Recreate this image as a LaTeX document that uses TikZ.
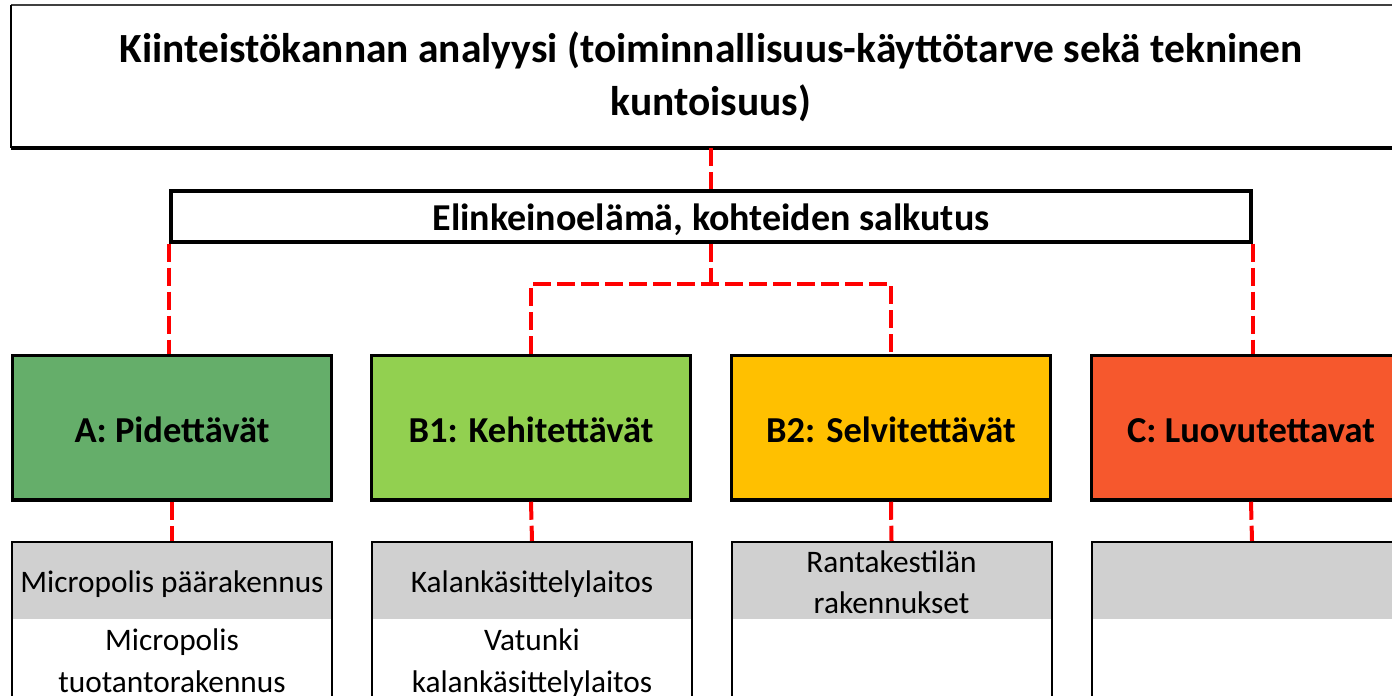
\documentclass[tikz,border=0pt]{standalone}
\usepackage{fontspec}
\setmainfont{Carlito}
\definecolor{keepgreen}{HTML}{65AE6A}
\definecolor{devgreen}{HTML}{92D050}
\definecolor{checkgold}{HTML}{FFC000}
\definecolor{sellred}{HTML}{F6582D}
\definecolor{hdrgrey}{HTML}{D0D0D0}
\definecolor{linkred}{HTML}{FF0000}
\begin{document}
\begin{tikzpicture}[x=0.75pt,y=-0.75pt,
  titletext/.style={inner sep=0pt,anchor=base,font=\bfseries\fontsize{31.1}{38}\selectfont},
  boldtext/.style={inner sep=0pt,anchor=base,font=\bfseries\fontsize{27.4}{33}\selectfont},
  plaintext/.style={inner sep=0pt,anchor=base,font=\fontsize{23.5}{31.5}\selectfont},
  catbox/.style={draw=black,line width=2.6pt,minimum width=239.25pt,minimum height=108.4pt,inner sep=0pt},
  lowframe/.style={draw=black,line width=1.5pt,minimum width=240pt,minimum height=127.5pt,inner sep=0pt,anchor=north},
  lowhead/.style={fill=hdrgrey,minimum width=240pt,minimum height=58pt,inner sep=0pt,anchor=north},
  link/.style={draw=linkred,line width=3pt,dash pattern=on 13.5pt off 4.5pt}]
\useasboundingbox (0,0) rectangle (1392,696);
\clip (0,0) rectangle (1392,696);

% top box with the analysis title
\node[minimum width=1050pt,minimum height=106.9pt,inner sep=0pt,anchor=north west] (title) at (11,5) {};
\draw[black!75,line width=1.5pt] (title.north west) -- (title.north east);
\draw[black,line width=1.2pt] (title.north west) -- (title.south west);
\draw[black,line width=2.6pt] (title.south west) -- (title.south east);
\node[titletext] (t1) at (711,62) {Kiinteistökannan analyysi (toiminnallisuus-käyttötarve sekä tekninen};
\node[titletext] (t2) at (711,115) {kuntoisuus)};

% portfolio box
\node[draw=black,line width=3pt,minimum width=810pt,minimum height=38.25pt,inner sep=0pt] (elink) at (711,216) {};
\node[boldtext,font=\bfseries\fontsize{28.5}{34}\selectfont] (elinktext) at (711,230) {Elinkeinoelämä, kohteiden salkutus};

% category boxes
\node[catbox,fill=keepgreen] (A) at (172,427.75) {};
\node[catbox,fill=devgreen] (B1) at (531,427.75) {};
\node[catbox,fill=checkgold] (B2) at (891,427.75) {};
\node[catbox,fill=sellred] (C) at (1251,427.75) {};
\node[boldtext] (At) at (172,442) {A: Pidettävät};
\node[boldtext] (B1t) at (531,442) {B1: Kehitettävät};
\node[boldtext] (B2t) at (891,442) {B2: Selvitettävät};
\node[boldtext] (Ct) at (1251,442) {C: Luovutettavat};

% building lists
\node[lowhead] (hA) at (172,541) {};
\node[lowhead] (hB1) at (532,541) {};
\node[lowhead] (hB2) at (891.5,541) {};
\node[lowhead] (hC) at (1252,541) {};
\node[lowframe] (lowA) at (172,541) {};
\node[lowframe] (lowB1) at (532,541) {};
\node[lowframe] (lowB2) at (891.5,541) {};
\node[lowframe] (lowC) at (1252,541) {};

\node[plaintext] (a1) at (172,592) {Micropolis päärakennus};
\node[plaintext] (a2) at (172,650) {Micropolis};
\node[plaintext] (a3) at (172,692) {tuotantorakennus};
\node[plaintext] (b1) at (532,592) {Kalankäsittelylaitos};
\node[plaintext] (b2) at (532,650) {Vatunki};
\node[plaintext] (b3) at (532,692) {kalankäsittelylaitos};
\node[plaintext] (c1) at (891.5,572) {Rantakestilän};
\node[plaintext] (c2) at (891.5,613) {rakennukset};

% dashed connectors
\coordinate (fork) at (711,284);
\draw[link] (title.south -| elink.north) -- (elink.north);
\draw[link] (elink.south west) -- (elink.south west |- A.north);
\draw[link] (elink.south east) -- (elink.south east |- C.north);
\draw[link] (elink.south) -- (fork);
\draw[link] (B1.north) -- (B1.north |- fork) -- (B2.north |- fork) -- (B2.north);
\draw[link] (A.south) -- (lowA.north);
\draw[link] (B1.south) -- (lowB1.north);
\draw[link] (B2.south) -- (lowB2.north);
\draw[link] (C.south) -- (lowC.north);
\end{tikzpicture}
\end{document}
